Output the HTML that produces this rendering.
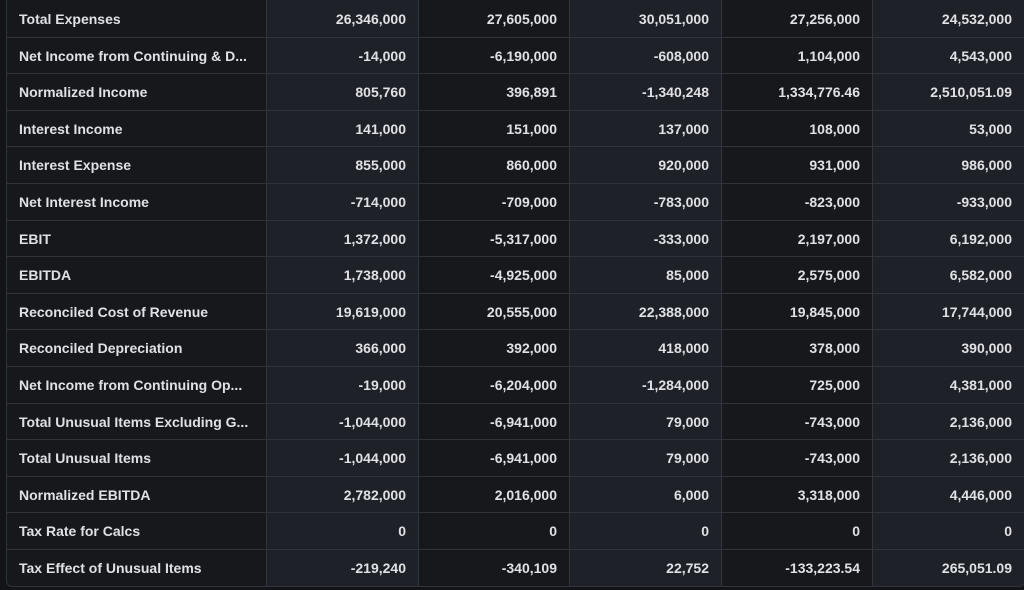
<!DOCTYPE html>
<html><head><style>
body{margin:0;width:1024px;height:590px;background:#121417;overflow:hidden;font-family:"Liberation Sans",sans-serif;}
.t{position:absolute;left:6px;top:-1px;width:1017px;height:586px;border:1px solid #30353b;border-radius:0 0 6px 6px;overflow:hidden;background:#16181c}
.c{position:absolute;top:0;height:586px;border-left:1px solid #30353b}
.r{position:absolute;left:0;width:1017px;height:36.6px;border-bottom:1px solid #30353b;box-sizing:border-box}
.cell{position:absolute;font-size:14px;font-weight:bold;color:#dfe1e4;line-height:36px;white-space:nowrap}
</style></head><body>
<div class="t" id="t">
<div class="c" style="left:259px;width:152px;background:#1e2128"></div>
<div class="c" style="left:411px;width:151px;background:#16181c"></div>
<div class="c" style="left:562px;width:152px;background:#1e2128"></div>
<div class="c" style="left:714px;width:151px;background:#16181c"></div>
<div class="c" style="left:865px;width:152px;background:#1e2128"></div>
</div>
<script>
const d=[["Total Expenses","26,346,000","27,605,000","30,051,000","27,256,000","24,532,000"],
["Net Income from Continuing & D...","-14,000","-6,190,000","-608,000","1,104,000","4,543,000"],
["Normalized Income","805,760","396,891","-1,340,248","1,334,776.46","2,510,051.09"],
["Interest Income","141,000","151,000","137,000","108,000","53,000"],
["Interest Expense","855,000","860,000","920,000","931,000","986,000"],
["Net Interest Income","-714,000","-709,000","-783,000","-823,000","-933,000"],
["EBIT","1,372,000","-5,317,000","-333,000","2,197,000","6,192,000"],
["EBITDA","1,738,000","-4,925,000","85,000","2,575,000","6,582,000"],
["Reconciled Cost of Revenue","19,619,000","20,555,000","22,388,000","19,845,000","17,744,000"],
["Reconciled Depreciation","366,000","392,000","418,000","378,000","390,000"],
["Net Income from Continuing Op...","-19,000","-6,204,000","-1,284,000","725,000","4,381,000"],
["Total Unusual Items Excluding G...","-1,044,000","-6,941,000","79,000","-743,000","2,136,000"],
["Total Unusual Items","-1,044,000","-6,941,000","79,000","-743,000","2,136,000"],
["Normalized EBITDA","2,782,000","2,016,000","6,000","3,318,000","4,446,000"],
["Tax Rate for Calcs","0","0","0","0","0"],
["Tax Effect of Unusual Items","-219,240","-340,109","22,752","-133,223.54","265,051.09"]];
const rights=[399,550,702,853,1005];
let h="";
d.forEach((row,i)=>{const y=i*36.6;
if(i<15)h+=`<div class="r" style="top:${y+1}px"></div>`;
h+=`<div class="cell" style="left:12px;top:${y+1}px">${row[0]}</div>`;
for(let j=1;j<6;j++)h+=`<div class="cell" style="right:${1017-rights[j-1]}px;top:${y+1}px">${row[j]}</div>`;});
document.getElementById("t").insertAdjacentHTML("beforeend",h);
</script>
</body></html>
